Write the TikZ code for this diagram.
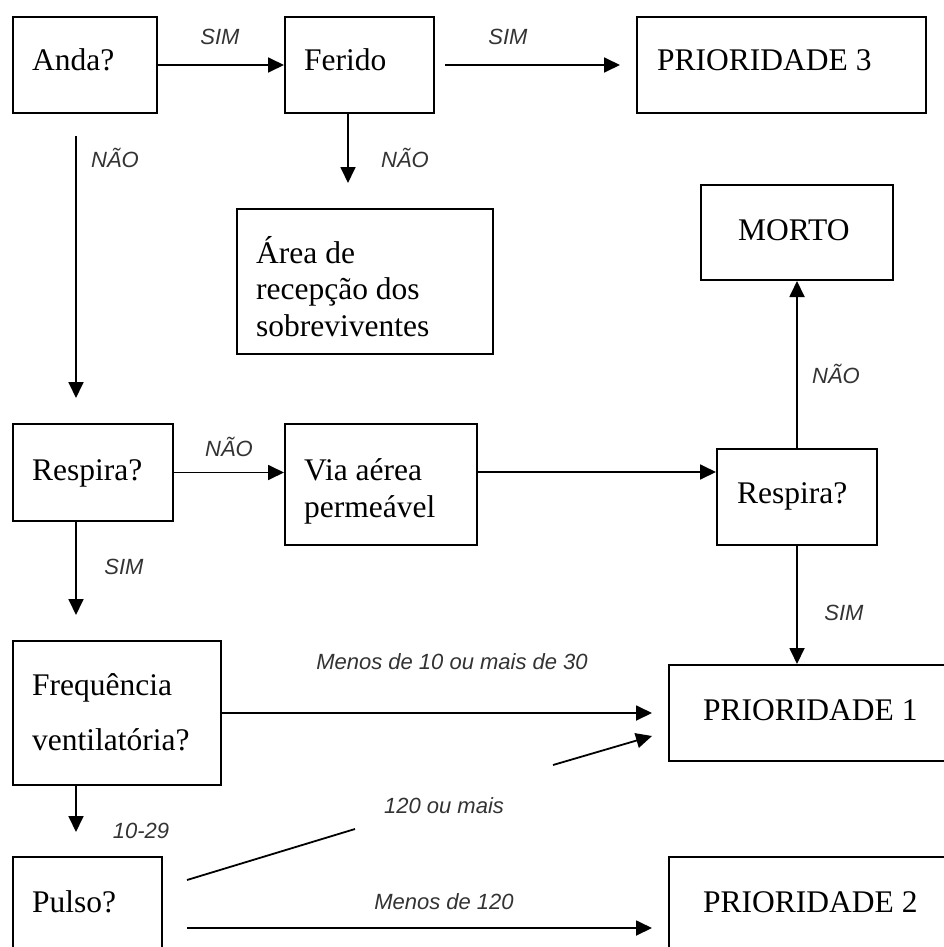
\documentclass[tikz,border=0pt]{standalone}
\usepackage{fontspec}
\setmainfont{Liberation Serif}
\newfontfamily\labfam{Liberation Sans}
\usetikzlibrary{arrows.meta}
\definecolor{lbl}{HTML}{333333}
\newcommand\bigserif{\fontsize{31.5}{36}\selectfont}
\newcommand\labfont{\labfam\itshape\fontsize{22}{26}\selectfont}
\tikzset{
  box/.style={draw, line width=2pt, inner sep=0pt, anchor=north west},
  txt/.style={anchor=base west, inner sep=0pt, font=\bigserif},
  lab/.style={inner sep=0pt, font=\labfont, text=lbl},
  arr/.style={-{Triangle[length=16pt,width=15pt]}, line width=1.8pt},
  ln/.style={line width=1.8pt}
}
\begin{document}
\begin{tikzpicture}[x=1pt,y=-1pt]
\useasboundingbox (0,0) rectangle (944,947);
\clip (0,0) rectangle (944,947);
\fill[white] (0,0) rectangle (944,947);

% boxes
\node[box, minimum width=144pt, minimum height=96pt] (anda) at (12,16) {};
\node[box, minimum width=149pt, minimum height=96pt] (ferido) at (284,16) {};
\node[box, minimum width=289pt, minimum height=96pt] (p3) at (636,16) {};
\node[box, minimum width=256pt, minimum height=145pt] (area) at (236,208) {};
\node[box, minimum width=192pt, minimum height=95pt] (morto) at (700,184) {};
\node[box, minimum width=160pt, minimum height=97pt] (resp1) at (12,423) {};
\node[box, minimum width=192pt, minimum height=121pt] (via) at (284,423) {};
\node[box, minimum width=160pt, minimum height=96pt] (resp2) at (716,448) {};
\node[box, minimum width=208pt, minimum height=144pt] (freq) at (12,640) {};
\node[box, minimum width=292pt, minimum height=96pt] (p1) at (668,664) {};
\node[box, minimum width=149pt, minimum height=110pt] (pulso) at (12,856) {};
\node[box, minimum width=292pt, minimum height=110pt] (p2) at (668,856) {};

% box texts
\node[txt] (tanda) at (32,71) {Anda?};
\node[txt] (tferido) at (304,71) {Ferido};
\node[txt] (tp3) at (657,71) {PRIORIDADE 3};
\node[txt] (tarea1) at (256,263) {Área de};
\node[txt] (tarea2) at (256,299) {recepção dos};
\node[txt] (tarea3) at (256,336) {sobreviventes};
\node[txt] (tmorto) at (738,240) {MORTO};
\node[txt] (tresp1) at (32,480) {Respira?};
\node[txt] (tvia1) at (304,480) {Via aérea};
\node[txt] (tvia2) at (304,517) {permeável};
\node[txt] (tresp2) at (737,503) {Respira?};
\node[txt] (tfreq1) at (32,695) {Frequência};
\node[txt] (tfreq2) at (32,750) {ventilatória?};
\node[txt] (tp1) at (703,720) {PRIORIDADE 1};
\node[txt] (tpulso) at (32,912) {Pulso?};
\node[txt] (tp2) at (703,912) {PRIORIDADE 2};

% free ends
\coordinate (a1) at (76,136);
\coordinate (a2) at (76,398);
\coordinate (fd) at (348,183);
\coordinate (vy) at (0,472);
\coordinate (r1d) at (76,615);
\coordinate (fqd) at (76,832);
\coordinate (d1) at (187,880);
\coordinate (g1) at (355,829);
\coordinate (g2) at (553,765);
\coordinate (d2) at (652,736);
\coordinate (q1) at (187,928);

% connectors
\draw[arr] (anda.east) -- (ferido.west);
\draw[arr, shorten <=10pt, shorten >=16pt] (ferido.east) -- (p3.west);
\draw[arr] (ferido.south -| fd) -- (fd);
\draw[arr] (a1) -- (a2);
\draw[arr] (resp1.east) -- (resp1.east -| via.west);
\draw[arr] (via.east |- vy) -- (resp2.west |- vy);
\draw[arr] (resp2.north) -- (morto.south);
\draw[arr] (resp1.south -| r1d) -- (r1d);
\draw[arr] (resp2.south) -- (resp2.south |- p1.north);
\draw[arr, shorten >=16pt] (freq.east) -- (freq.east -| p1.west);
\draw[arr] (freq.south -| fqd) -- (fqd);
\draw[ln] (d1) -- (g1);
\draw[arr] (g2) -- (d2);
\draw[arr, shorten >=16pt] (q1) -- (q1 -| p2.west);

% labels
\node[lab] (l1) at (220,37) {SIM};
\node[lab] (l2) at (508,37) {SIM};
\node[lab] (l3) at (115,158) {NÃO};
\node[lab] (l4) at (405,158) {NÃO};
\node[lab] (l5) at (229,447) {NÃO};
\node[lab] (l6) at (836,374) {NÃO};
\node[lab] (l7) at (124,567) {SIM};
\node[lab] (l8) at (844,613) {SIM};
\node[lab] (l9) at (452,662) {Menos de 10 ou mais de 30};
\node[lab] (l10) at (141,831) {10-29};
\node[lab] (l11) at (444,806) {120 ou mais};
\node[lab] (l12) at (444,902) {Menos de 120};
\end{tikzpicture}
\end{document}
